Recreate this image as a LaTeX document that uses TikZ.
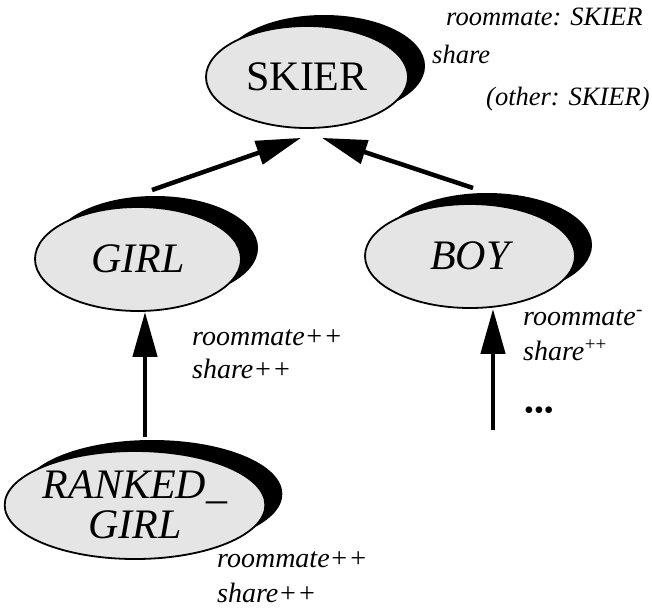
\documentclass[tikz,border=0pt]{standalone}
\usepackage{fontspec}
\setmainfont{Liberation Serif}
\usetikzlibrary{shapes.geometric,shadows,arrows.meta}
\begin{document}
\begin{tikzpicture}[x=1pt,y=-1pt,
  cls/.style={ellipse, draw=black, line width=1.8pt, fill=black!10, inner sep=0pt,
    general shadow={fill=black, shadow xshift=17pt, shadow yshift=11pt}},
  nm/.style={font=\fontsize{42}{40}\selectfont\itshape},
  lab/.style={font=\fontsize{28}{30}\selectfont\itshape, anchor=base west, inner sep=0pt},
  toplab/.style={lab, font=\fontsize{26.5}{30}\selectfont\itshape},
  sup/.style={font=\fontsize{19}{20}\selectfont, anchor=base west, inner sep=0pt},
  arr/.style={line width=4.5pt, -{Triangle[length=45pt,width=24pt]}}]
\path[use as bounding box] (0,0) rectangle (652,611);
\node[cls, nm, minimum width=202pt, minimum height=102pt] (skier) at (307,77) {\upshape SKIER};
\node[cls, nm, minimum width=206pt, minimum height=104pt] (girl) at (138,259) {GIRL};
\node[cls, nm, minimum width=210pt, minimum height=104pt] (boy) at (470,256) {BOY};
\node[cls, nm, minimum width=244pt, minimum height=108pt, align=center] (ranked) at (135,505) {RANKED\_\\GIRL};
\node[toplab] (l1) at (446,25) {roommate: SKIER};
\node[toplab] (l2) at (432,63) {share};
\node[toplab] (l3) at (486,105) {(other: SKIER)};
\node[lab] (g1) at (192,345) {roommate++};
\node[lab] (g2) at (192,378) {share++};
\node[lab] (b1) at (523,325) {roommate};
\node[sup] (b1s) at (b1.base east) {\raisebox{10pt}{-}};
\node[lab] (b2) at (523,360) {share};
\node[sup] (b2s) at (b2.base east) {\raisebox{10pt}{++}};
\node[lab, font=\fontsize{28}{30}\selectfont] (dots) at (524,419) {\textbullet\textbullet\textbullet};
\node[lab] (r1) at (217,567) {roommate++};
\node[lab] (r2) at (217,602) {share++};
\coordinate (gs) at (152,190);
\coordinate (bs) at (473,188);
\coordinate (gb) at (145,437);
\coordinate (bb) at (493,430);
\draw[arr] (gs) -- ([xshift=-6pt,yshift=-9pt]skier.south);
\draw[arr] (bs) -- ([xshift=15pt,yshift=-9pt]skier.south);
\draw[arr] (gb) -- (girl.south -| gb);
\draw[arr] (bb) -- (boy.south -| bb);
\end{tikzpicture}
\end{document}
